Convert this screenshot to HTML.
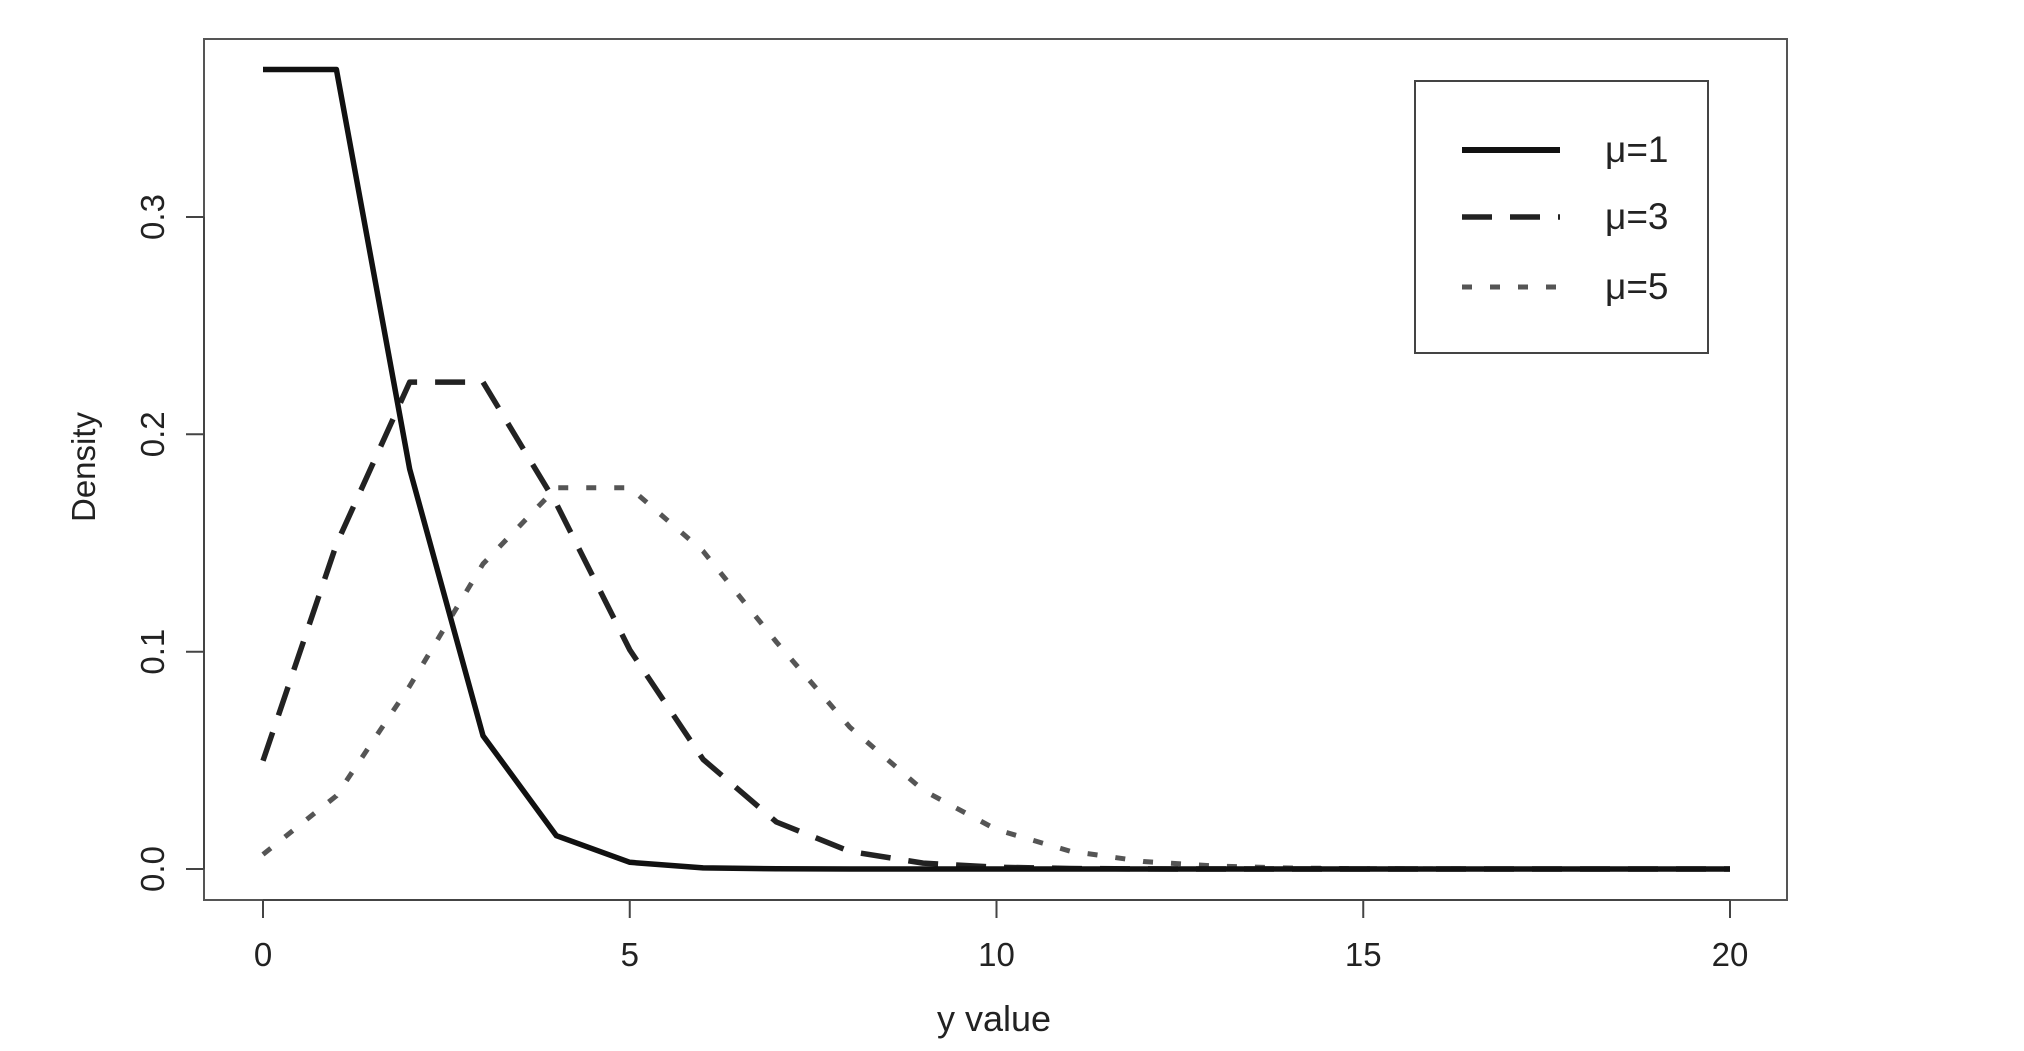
<!DOCTYPE html>
<html><head><meta charset="utf-8"><style>
html,body{margin:0;padding:0;background:#fff;}
svg{display:block;}
text{font-family:"Liberation Sans",sans-serif;fill:#222;}
</style></head><body>
<svg id="s" width="2024" height="1051" viewBox="0 0 2024 1051" xmlns="http://www.w3.org/2000/svg">
<rect x="0" y="0" width="2024" height="1051" fill="#fff"/>
<rect x="204" y="39" width="1583" height="861" fill="none" stroke="#555" stroke-width="2"/>
<g stroke="#444" stroke-width="2">
<line x1="263" y1="900" x2="1730" y2="900"/>
<line x1="263" y1="900" x2="263" y2="918"/>
<line x1="629.75" y1="900" x2="629.75" y2="918"/>
<line x1="996.5" y1="900" x2="996.5" y2="918"/>
<line x1="1363.25" y1="900" x2="1363.25" y2="918"/>
<line x1="1730" y1="900" x2="1730" y2="918"/>
<line x1="204" y1="869" x2="204" y2="217"/>
<line x1="204" y1="869" x2="186" y2="869"/>
<line x1="204" y1="651.7" x2="186" y2="651.7"/>
<line x1="204" y1="434.3" x2="186" y2="434.3"/>
<line x1="204" y1="217" x2="186" y2="217"/>
</g>
<g font-size="33" text-anchor="middle">
<text x="263" y="966">0</text>
<text x="629.75" y="966">5</text>
<text x="996.5" y="966">10</text>
<text x="1363.25" y="966">15</text>
<text x="1730" y="966">20</text>
<text transform="translate(164,869) rotate(-90)">0.0</text>
<text transform="translate(164,651.7) rotate(-90)">0.1</text>
<text transform="translate(164,434.3) rotate(-90)">0.2</text>
<text transform="translate(164,217) rotate(-90)">0.3</text>
<text x="994" y="1031" font-size="36">y value</text>
<text transform="translate(95,467) rotate(-90)" font-size="33">Density</text>
</g>
<g id="curves" fill="none" stroke-linejoin="round"></g>
<rect x="1415" y="81" width="293" height="272" fill="#fff" stroke="#444" stroke-width="2"/>
<line x1="1462" y1="150" x2="1560" y2="150" stroke="#111" stroke-width="6"/>
<line x1="1462" y1="217" x2="1560" y2="217" stroke="#222" stroke-width="5.5" stroke-dasharray="30,18"/>
<line x1="1462" y1="287" x2="1560" y2="287" stroke="#555" stroke-width="5" stroke-dasharray="10,18"/>
<g font-size="37">
<text x="1605" y="162">μ=1</text>
<text x="1605" y="229">μ=3</text>
<text x="1605" y="299">μ=5</text>
</g>
</svg>
<script>
function pois(k,m){var f=1;for(var i=2;i<=k;i++)f*=i;return Math.exp(-m)*Math.pow(m,k)/f;}
var specs=[[5,"#555","5","10,18"],[3,"#222","5.5","30,18"],[1,"#111","5.5",""]];
var g=document.getElementById("curves");
specs.forEach(function(s){
 var pts=[];for(var k=0;k<=20;k++){pts.push((263+k*73.35).toFixed(1)+","+(869-pois(k,s[0])*2173.3).toFixed(1));}
 var p=document.createElementNS("http://www.w3.org/2000/svg","polyline");
 p.setAttribute("points",pts.join(" "));p.setAttribute("stroke",s[1]);p.setAttribute("stroke-width",s[2]);
 if(s[3])p.setAttribute("stroke-dasharray",s[3]);
 g.appendChild(p);
});
</script>
</body></html>
